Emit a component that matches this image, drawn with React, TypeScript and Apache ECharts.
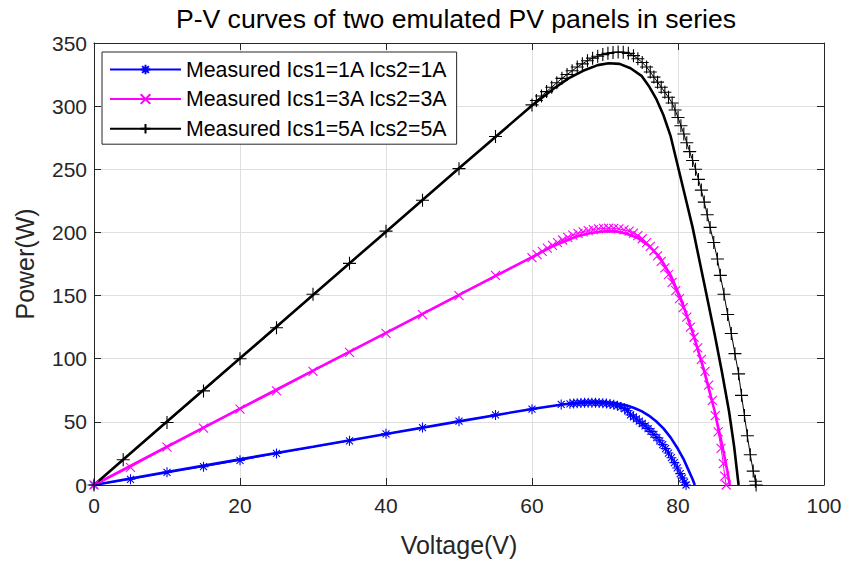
import React, { useEffect, useRef } from "react";
import * as echarts from "echarts";

const TITLE = "P-V curves of two emulated PV panels in series";
const X_NAME = "Voltage(V)";
const Y_NAME = "Power(W)";
const X_MIN = 0;
const X_MAX = 100;
const X_STEP = 20;
const Y_MIN = 0;
const Y_MAX = 350;
const Y_STEP = 50;

const NAMES_MEAS = [
  "Measured Ics1=1A Ics2=1A",
  "Measured Ics1=3A Ics2=3A",
  "Measured Ics1=5A Ics2=5A",
];
const NAMES_SIM = ["Simulated 1A", "Simulated 3A", "Simulated 5A"];
const COLORS = ["#0000ff", "#ff00ff", "#000000"];

// [Voltage (V), Power (W)]
const meas1A: number[][] = [
  [0, 0], [5, 4.5], [10, 10], [15, 14.5], [20, 19.5], [25, 25], [35, 35], [40, 40.5],
  [45, 45.5], [50, 50.5], [55, 55.5], [60, 60], [64, 63.8],
  [65.2, 64.3], [65.7, 64.6], [66.2, 64.8], [66.7, 65], [67.2, 65.1], [67.7, 65.2],
  [68.2, 65.2], [68.7, 65.1], [69.2, 65], [69.7, 64.8], [70.2, 64.5], [70.7, 64.1],
  [71.2, 63.5], [71.7, 62.8], [72.2, 61.8], [72.7, 60.5], [73.1, 58.8],
  [73.5, 55.5], [73.9, 54], [74.3, 52.3], [74.7, 50.5], [75.1, 48.7], [75.5, 46.8],
  [75.9, 44.7], [76.3, 42.5], [76.7, 40], [77.1, 37.5], [77.5, 35], [77.9, 32],
  [78.3, 28.8], [78.7, 25.3], [79.1, 21.6], [79.5, 17.7], [79.9, 13.5], [80.3, 9],
  [80.6, 5.5], [80.9, 2.2], [81.1, 0],
];
const sim1A: number[][] = [
  [0, 0], [10, 10.2], [20, 20.3], [30, 30.3], [40, 40.4], [50, 50.4], [60, 60.2],
  [63, 62.8], [65, 64.3], [67, 65.3], [68.5, 65.6], [70, 65.5], [71.5, 64.8], [73, 63],
  [74, 61], [75, 58.5], [76, 55], [77, 50.5], [78, 44.8], [79, 37.5], [80, 28.5],
  [80.8, 20], [81.5, 11], [82, 4.5], [82.3, 0],
];

const meas3A: number[][] = [
  [0, 0], [5, 14], [10, 30], [15, 45], [20, 60], [25, 74.5], [30, 90], [35, 105],
  [40, 120], [45, 135], [50, 150], [55, 166], [60, 180],
  [60.7, 182.5], [61.4, 185], [62.1, 187.5], [62.8, 189.8], [63.5, 192], [64.2, 194],
  [64.9, 196], [65.6, 197.8], [66.3, 199.3], [67, 200.5], [67.7, 201.5], [68.4, 202.3],
  [69.1, 202.9], [69.8, 203.2], [70.5, 203.3], [71.2, 203.2], [71.9, 202.8], [72.6, 202],
  [73.3, 201], [73.9, 199.5], [74.5, 197.5], [75.1, 195], [75.7, 192], [76.2, 189],
  [76.7, 185.5], [77.2, 181.5], [77.7, 177], [78.2, 172], [78.7, 166.5], [79.2, 160.5],
  [79.7, 154], [80.2, 147.5], [80.7, 140.5], [81.2, 133], [81.7, 125], [82.2, 117],
  [82.7, 108.5], [83.2, 99.5], [83.7, 90], [84.2, 79], [84.7, 67], [85.1, 55],
  [85.5, 42], [85.9, 29], [86.2, 17], [86.4, 7], [86.6, 0],
];
const sim3A: number[][] = [
  [0, 0], [10, 30.3], [20, 60.5], [30, 90.5], [40, 120.5], [50, 150.5], [60, 180.5],
  [63, 189.5], [66, 196.5], [68, 199.5], [70, 201], [71.5, 200.8], [73, 199],
  [74.5, 195.5], [76, 189.5], [77.5, 180.5], [79, 166], [80.5, 146], [82, 121],
  [83.5, 92], [85, 59], [86, 33], [86.8, 10], [87.1, 0],
];

const meas5A: number[][] = [
  [0, 0], [4, 20], [10, 49.5], [15, 74.5], [20, 100], [25, 124.5], [30, 151], [35, 175.5],
  [40, 201], [45, 225.5], [50, 250.5], [55, 276], [60, 301],
  [60.6, 304.5], [61.3, 308], [62, 311.5], [62.7, 315], [63.4, 318.5], [64.1, 322],
  [64.8, 325], [65.5, 328], [66.2, 331], [66.9, 333.5], [67.6, 336], [68.3, 338],
  [69, 339.5], [69.7, 340.8], [70.4, 341.8], [71.1, 342.5], [71.8, 342.8], [72.5, 342.6],
  [73.2, 341.8], [73.9, 340], [74.5, 337.5], [75.1, 334.5], [75.7, 331], [76.2, 327],
  [76.7, 323], [77.2, 319], [77.7, 315], [78.2, 311], [78.7, 307], [79.2, 302.5],
  [79.6, 297], [80, 291], [80.4, 284.5], [80.8, 278], [81.2, 271], [81.6, 264],
  [82, 257], [82.4, 250], [82.8, 242], [83.2, 233.5], [83.6, 224], [84, 214],
  [84.4, 204], [84.9, 192], [85.4, 179], [85.8, 166], [86.3, 151], [86.8, 135],
  [87.3, 120], [87.8, 104], [88.3, 88], [88.7, 71], [89.1, 55], [89.5, 39],
  [89.9, 24], [90.3, 11], [90.6, 3], [90.7, 0],
];
const sim5A: number[][] = [
  [0, 0], [10, 50.2], [20, 100.3], [30, 150.5], [40, 200.6], [50, 250.8], [60, 300.5],
  [63, 314], [65, 322], [67, 328], [69, 332.5], [70.5, 334], [72, 333.5], [73.5, 330],
  [75, 324], [76, 316], [77, 306], [78, 293], [79, 276], [80, 252], [81, 228], [82, 204],
  [83, 176], [84, 148], [85, 120], [86, 90], [87, 58], [87.7, 30], [88.3, 0],
];

const MEAS = [meas1A, meas3A, meas5A];
const SIM = [sim1A, sim3A, sim5A];

const SYM_STAR = "path://M5,0L5,10M0,5L10,5M1.5,1.5L8.5,8.5M8.5,1.5L1.5,8.5";
const SYM_X = "path://M0,0L10,10M10,0L0,10";
const SYM_PLUS = "path://M5,0L5,10M0,5L10,5";
const SYMBOLS = [SYM_STAR, SYM_X, SYM_PLUS];
const SYM_SIZES = [10, 9, 13];

const FONT = "'Liberation Sans', Arial, Helvetica, sans-serif";
const AX = "#262626";
const GRID = "#dfdfdf";

export default function App() {
  const ref = useRef<HTMLDivElement>(null);
  useEffect(() => {
    if (!ref.current) return;
    const chart = echarts.init(ref.current, undefined, { renderer: "svg" });

    const simSeries = SIM.map((d, i) => ({
      name: NAMES_SIM[i],
      type: "line",
      data: d,
      showSymbol: false,
      symbol: "none",
      smooth: false,
      silent: true,
      lineStyle: { color: COLORS[i], width: 2.6 },
      itemStyle: { color: COLORS[i] },
      z: 2,
    }));
    const measSeries = MEAS.map((d, i) => ({
      name: NAMES_MEAS[i],
      type: "line",
      data: d,
      symbol: SYMBOLS[i],
      symbolSize: SYM_SIZES[i],
      showAllSymbol: true,
      smooth: false,
      silent: true,
      lineStyle: { color: COLORS[i], width: 1 },
      itemStyle: { color: "none", borderColor: COLORS[i], borderWidth: 1.1 },
      z: 3,
    }));

    const axisCommon = {
      axisLine: { show: true, onZero: false, lineStyle: { color: AX, width: 1 } },
      axisTick: { show: true, inside: true, length: 7, lineStyle: { color: AX, width: 1 } },
    };

    chart.setOption({
      animation: false,
      textStyle: { fontFamily: FONT },
      grid: { left: 94, right: 23, top: 43, bottom: 76, containLabel: false },
      graphic: [
        {
          type: "text",
          x: 456,
          y: 5,
          style: {
            text: TITLE,
            fill: "#000",
            font: `26.6px ${FONT}`,
            textAlign: "center",
            textVerticalAlign: "top",
          },
        },
      ],
      legend: {
        data: NAMES_MEAS,
        orient: "vertical",
        left: 102,
        top: 52,
        itemWidth: 71,
        itemHeight: 12,
        itemGap: 8.6,
        padding: [7, 9, 5, 7],
        backgroundColor: "#fff",
        borderColor: AX,
        borderWidth: 1,
        borderRadius: 0,
        selectedMode: false,
        textStyle: { fontSize: 21.3, color: "#000", fontFamily: FONT },
      },
      xAxis: [
        {
          type: "value",
          min: X_MIN,
          max: X_MAX,
          interval: X_STEP,
          position: "bottom",
          name: X_NAME,
          nameLocation: "middle",
          nameGap: 47,
          nameTextStyle: { fontSize: 25, color: AX, fontFamily: FONT },
          ...axisCommon,
          axisLabel: { fontSize: 21, color: AX, margin: 10, fontFamily: FONT },
          splitLine: { show: true, lineStyle: { color: GRID, width: 1 } },
        },
        {
          type: "value",
          min: X_MIN,
          max: X_MAX,
          interval: X_STEP,
          position: "top",
          ...axisCommon,
          axisLabel: { show: false },
          splitLine: { show: false },
        },
      ],
      yAxis: [
        {
          type: "value",
          min: Y_MIN,
          max: Y_MAX,
          interval: Y_STEP,
          position: "left",
          name: Y_NAME,
          nameLocation: "middle",
          nameGap: 57,
          nameTextStyle: { fontSize: 25, color: AX, fontFamily: FONT },
          ...axisCommon,
          axisLabel: { fontSize: 21, color: AX, margin: 7, fontFamily: FONT },
          splitLine: { show: true, lineStyle: { color: GRID, width: 1 } },
        },
        {
          type: "value",
          min: Y_MIN,
          max: Y_MAX,
          interval: Y_STEP,
          position: "right",
          ...axisCommon,
          axisLabel: { show: false },
          splitLine: { show: false },
        },
      ],
      series: [...simSeries, ...measSeries],
    });
    return () => chart.dispose();
  }, []);

  return (
    <div
      ref={ref}
      style={{ position: "fixed", left: 0, top: 0, width: 847, height: 562, background: "#fff" }}
    />
  );
}
